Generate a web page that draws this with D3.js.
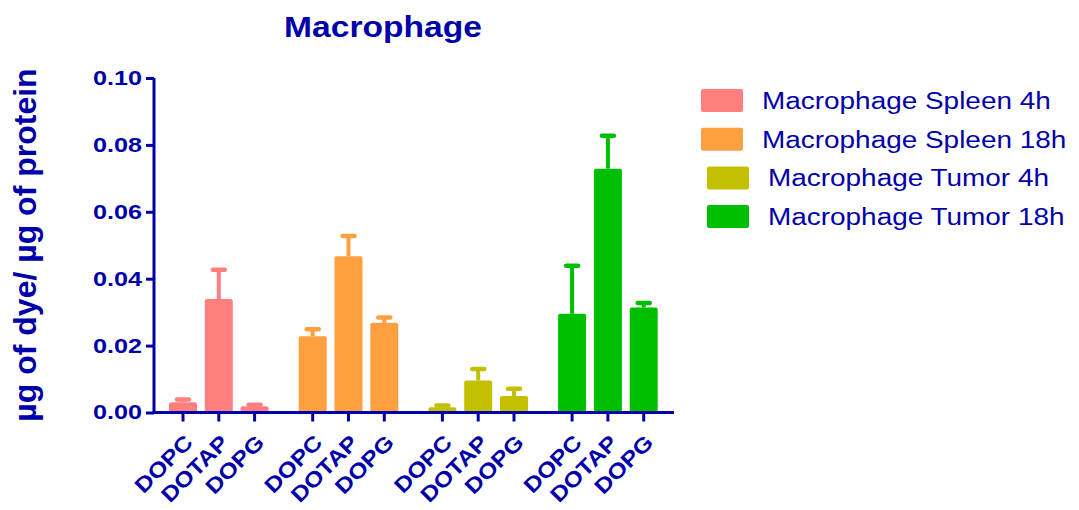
<!DOCTYPE html>
<html>
<head>
<meta charset="utf-8">
<script src="https://cdn.jsdelivr.net/npm/d3@7"></script>
<style>
  body { margin: 0; background: #fff; }
  text { font-family: "Liberation Sans", Arial, sans-serif; fill: #0000aa; }
</style>
</head>
<body>
<script>
// data
var groups = ["Macrophage Spleen 4h", "Macrophage Spleen 18h", "Macrophage Tumor 4h", "Macrophage Tumor 18h"];
var lipids = ["DOPC", "DOTAP", "DOPG"];
var colors = ["#ff7f7f", "#ffa040", "#c2c000", "#00bf00"];
var means = [
  [0.0031, 0.0339, 0.0019],
  [0.0228, 0.0467, 0.0268],
  [0.0016, 0.0096, 0.0049],
  [0.0295, 0.0729, 0.0314]
];
var upper = [
  [0.0039, 0.0427, 0.0023],
  [0.0249, 0.0528, 0.0284],
  [0.0021, 0.0130, 0.0071],
  [0.0439, 0.0827, 0.0327]
];
var yTicks = [0, 0.02, 0.04, 0.06, 0.08, 0.10];

var W = 1079, H = 510;
var blue = "#0000aa";

var svg = d3.select("body").append("svg")
  .attr("width", W).attr("height", H);

var y = d3.scaleLinear().domain([0, 0.10]).range([412.5, 78]);

// flatten to one slot per bar
var rows = [];
groups.forEach(function(g, gi) {
  lipids.forEach(function(l, li) {
    rows.push({ g: gi, l: li, name: l, v: means[gi][li], e: upper[gi][li] });
  });
});

var x = d3.scaleLinear().domain([0, 1]).range([183, 183 + 129.7]);
function xpos(d) { return x(d.g) + d.l * 35.8; }
var bw = 28;

// bars
svg.selectAll(".bar").data(rows).enter().append("rect")
  .attr("class", "bar")
  .attr("x", function(d) { return xpos(d) - bw / 2; })
  .attr("y", function(d) { return y(d.v); })
  .attr("width", bw)
  .attr("height", function(d) { return y(0) - y(d.v); })
  .attr("rx", 2)
  .attr("fill", function(d) { return colors[d.g]; });

// error bars (upper only)
svg.selectAll(".err").data(rows).enter().append("line")
  .attr("x1", xpos).attr("x2", xpos)
  .attr("y1", function(d) { return y(d.v); })
  .attr("y2", function(d) { return y(d.e); })
  .attr("stroke", function(d) { return colors[d.g]; })
  .attr("stroke-width", 4);
svg.selectAll(".cap").data(rows).enter().append("line")
  .attr("x1", function(d) { return xpos(d) - 6; })
  .attr("x2", function(d) { return xpos(d) + 6; })
  .attr("y1", function(d) { return y(d.e); })
  .attr("y2", function(d) { return y(d.e); })
  .attr("stroke", function(d) { return colors[d.g]; })
  .attr("stroke-width", 4.5)
  .attr("stroke-linecap", "round");

// y axis
var yAxis = svg.append("g")
  .attr("transform", "translate(154,0)")
  .call(d3.axisLeft(y).tickValues(yTicks).tickFormat(d3.format(".2f")).tickSize(8).tickPadding(4));
yAxis.select(".domain").attr("stroke", blue).attr("stroke-width", 3).attr("d", "M0," + y(0.10) + "V" + (y(0) + 1.5));
yAxis.selectAll(".tick line").attr("stroke", blue).attr("stroke-width", 3);
yAxis.selectAll(".tick text")
  .attr("x", null)
  .attr("transform", "translate(-12,0) scale(1.26,1)")
  .style("font-size", "20px").style("font-weight", "bold")
  .attr("fill", blue);

// x axis line + ticks
svg.append("line")
  .attr("x1", 152.5).attr("x2", 674)
  .attr("y1", y(0)).attr("y2", y(0))
  .attr("stroke", blue).attr("stroke-width", 3);
svg.selectAll(".xt").data(rows).enter().append("line")
  .attr("x1", xpos).attr("x2", xpos)
  .attr("y1", y(0)).attr("y2", y(0) + 9)
  .attr("stroke", blue).attr("stroke-width", 3);
svg.selectAll(".xl").data(rows).enter().append("text")
  .attr("transform", function(d) { return "translate(" + (xpos(d) + 11) + "," + 444 + ") rotate(-45) scale(1.15,1)"; })
  .attr("text-anchor", "end")
  .style("font-size", "21.5px").style("font-weight", "bold")
  .text(function(d) { return d.name; });

// titles
svg.append("text")
  .attr("transform", "translate(383,37) scale(1.12,1)")
  .attr("text-anchor", "middle")
  .style("font-size", "30px").style("font-weight", "bold")
  .text("Macrophage");
svg.append("text")
  .attr("transform", "translate(36,245) rotate(-90)")
  .attr("text-anchor", "middle")
  .style("font-size", "32px").style("font-weight", "bold")
  .text("µg of dye/ µg of protein");

// legend
var leg = svg.selectAll(".leg").data(groups).enter().append("g")
  .attr("transform", function(d, i) { return "translate(" + (i < 2 ? 701 : 707) + "," + (89 + i * 38.7) + ")"; });
leg.append("rect")
  .attr("width", 42).attr("height", 23).attr("rx", 2)
  .attr("fill", function(d, i) { return colors[i]; });
leg.append("text")
  .attr("transform", "translate(61,20) scale(1.14,1)")
  .style("font-size", "24.5px")
  .text(function(d) { return d; });
</script>
</body>
</html>
